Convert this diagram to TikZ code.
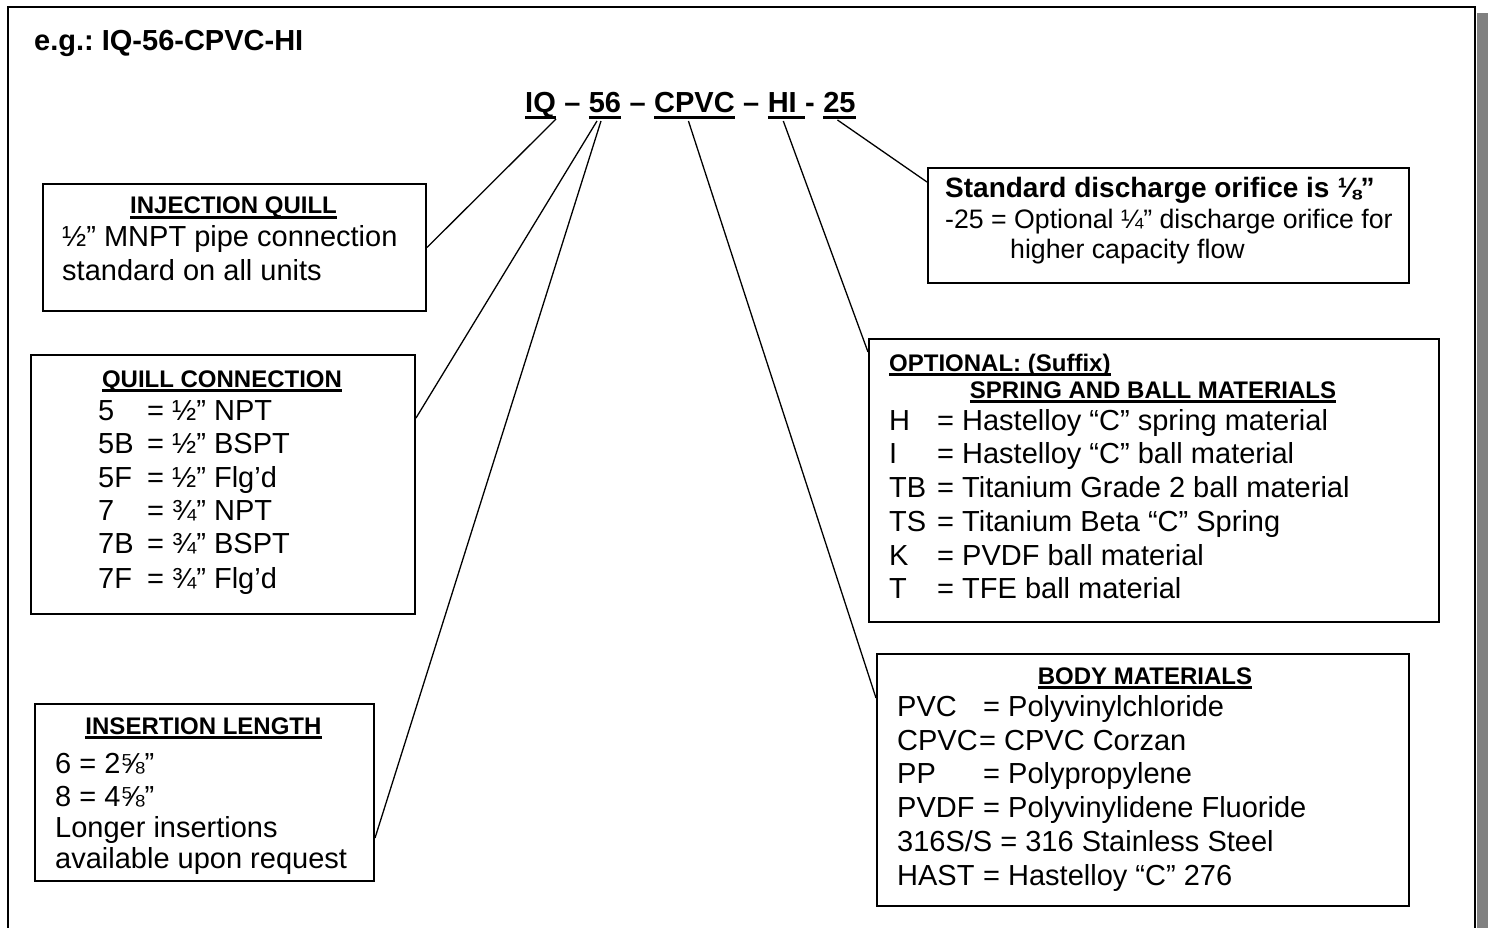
\documentclass[tikz,border=0pt]{standalone}
\usepackage{fontspec}
\setmainfont{Liberation Sans}
\frenchspacing
\newcommand\bodyf{\fontsize{29}{33.5}\selectfont}
\newcommand\sdf{\fontsize{26.7}{31}\selectfont}
\newcommand\hdrf{\fontsize{24}{28}\selectfont\bfseries}
\newcommand\ttlf{\fontsize{29}{34}\selectfont\bfseries}
\newcommand\ulH[1]{\setbox0\hbox{#1}\rlap{\rule[-5pt]{\wd0}{2.6pt}}\box0}
\newcommand\ulT[1]{\setbox0\hbox{#1}\rlap{\rule[-6.5pt]{\wd0}{3pt}}\box0}
\definecolor{shadowgray}{HTML}{808080}
\begin{document}
\begin{tikzpicture}[x=1pt,y=-1pt,
  box/.style={draw, line width=2pt, rectangle, inner sep=0pt, anchor=north west},
  txt/.style={anchor=base west, inner sep=0pt, font=\bodyf},
  hdr/.style={anchor=base, inner sep=0pt, font=\hdrf},
  hdrw/.style={anchor=base west, inner sep=0pt, font=\hdrf},
  ttl/.style={anchor=base west, inner sep=0pt, font=\ttlf},
  con/.style={line width=1.3pt}]
\useasboundingbox (0,0) rectangle (1488,928);
\clip (0,0) rectangle (1488,928);
% frame and shadow
\fill[shadowgray] (1477,13) rectangle (1488,940);
\draw[line width=2pt] (8,7) rectangle (1475,945);

% example line
\node[ttl] (eg) at (34,51) {e.g.: IQ-56-CPVC-HI};

% code title
\node[ttl] (tIQ) at (525,113) {\ulT{IQ}};
\node[ttl] (d1) at (tIQ.base east) {\ \textendash\ \null};
\node[ttl] (t56) at (d1.base east) {\ulT{56}};
\node[ttl] (d2) at (t56.base east) {\ \textendash\ \null};
\node[ttl] (tCP) at (d2.base east) {\ulT{CPVC}};
\node[ttl] (d3) at (tCP.base east) {\ \textendash\ \null};
\node[ttl] (tHI) at (d3.base east) {\ulT{HI\ \null}};
\node[ttl] (d4) at (tHI.base east) {-\ \null};
\node[ttl] (t25) at (d4.base east) {\ulT{25}};

% boxes
\node[box, minimum width=383pt, minimum height=127pt] (iq) at (42,183) {};
\node[box, minimum width=384pt, minimum height=259pt] (qc) at (30,354) {};
\node[box, minimum width=339pt, minimum height=177pt] (il) at (34,703) {};
\node[box, minimum width=481pt, minimum height=115pt] (sd) at (927,167) {};
\node[box, minimum width=570pt, minimum height=283pt] (op) at (868,338) {};
\node[box, minimum width=532pt, minimum height=252pt] (bm) at (876,653) {};

% injection quill
\node[hdr] (iqh) at (233.5,214) {\ulH{INJECTION QUILL}};
\node[txt] (iq1) at (62,246) {½” MNPT pipe connection};
\node[txt] (iq2) at (62,280) {standard on all units};

% quill connection
\node[hdr] (qch) at (222,387) {\ulH{QUILL CONNECTION}};
\foreach \c/\t/\y [count=\i] in {5/½” NPT/420, 5B/½” BSPT/453, 5F/½” Flg’d/487,
  7/¾” NPT/520, 7B/¾” BSPT/553, 7F/¾” Flg’d/588}{
  \node[txt] (qck\i) at (98,\y) {\c};
  \node[txt] (qcv\i) at (147,\y) {= \t};
}

% insertion length
\node[hdr] (ilh) at (203.5,734) {\ulH{INSERTION LENGTH}};
\node[txt] (il1) at (55,773) {6 = 2⅝”};
\node[txt] (il2) at (55,806) {8 = 4⅝”};
\node[txt] (il3) at (55,837) {Longer insertions};
\node[txt] (il4) at (55,868) {available upon request};

% standard orifice
\node[anchor=base west, inner sep=0pt, font=\fontsize{28}{33}\selectfont\bfseries] (sd1) at (945,197) {Standard discharge orifice is ⅛”};
\node[anchor=base west, inner sep=0pt, font=\sdf] (sd2) at (945,229) {-25 = Optional ¼” discharge orifice for};
\node[anchor=base west, inner sep=0pt, font=\sdf] (sd3) at (1010,258) {higher capacity flow};

% optional suffix
\node[hdrw] (oph1) at (889,371) {\ulH{OPTIONAL: (Suffix)}};
\node[hdr] (oph2) at (1153,398) {\ulH{SPRING AND BALL MATERIALS}};
\foreach \c/\t/\y [count=\i] in {H/Hastelloy “C” spring material/430,
  I/Hastelloy “C” ball material/463, TB/Titanium Grade 2 ball material/497,
  TS/Titanium Beta “C” Spring/531, K/PVDF ball material/565, T/TFE ball material/598}{
  \node[txt] (opk\i) at (889,\y) {\c};
  \node[txt] (opv\i) at (937,\y) {= \t};
}

% body materials
\node[hdr] (bmh) at (1145,684) {\ulH{BODY MATERIALS}};
\node[txt] (bmk1) at (897,716) {PVC};
\node[txt] (bmv1) at (983,716) {= Polyvinylchloride};
\node[txt] (bmk2) at (897,750) {CPVC};
\node[txt] (bmv2) at (979,750) {= CPVC Corzan};
\node[txt] (bmk3) at (897,783) {PP};
\node[txt] (bmv3) at (983,783) {= Polypropylene};
\node[txt] (bmk4) at (897,817) {PVDF};
\node[txt] (bmv4) at (983,817) {= Polyvinylidene Fluoride};
\node[txt] (bmr5) at (897,851) {316S/S = 316 Stainless Steel};
\node[txt] (bmk6) at (897,885) {HAST};
\node[txt] (bmv6) at (983,885) {= Hastelloy “C” 276};

% connector end points
\coordinate (sIQ) at ([yshift=-6pt]tIQ.base east);
\coordinate (s56a) at ([xshift=-8pt,yshift=-8pt]t56.base);
\coordinate (s56b) at ([xshift=-4pt,yshift=-8pt]t56.base);
\coordinate (sCP) at ([xshift=-6pt,yshift=-8pt]tCP.base);
\coordinate (sHI) at ([xshift=-3pt,yshift=-8pt]tHI.base);
\coordinate (s25) at ([xshift=-2pt,yshift=-7pt]t25.base);
\coordinate (qcE) at ([yshift=-64pt]qc.north east);
\coordinate (ilE) at ([yshift=-135pt]il.north east);
\coordinate (bmW) at ([yshift=-45pt]bm.north west);
\coordinate (opW) at ([yshift=-14pt]op.north west);
\coordinate (sdW) at ([yshift=-15pt]sd.north west);

\draw[con] (sIQ) -- (iq.east);
\draw[con] (s56a) -- (qcE);
\draw[con] (s56b) -- (ilE);
\draw[con] (sCP) -- (bmW);
\draw[con] (sHI) -- (opW);
\draw[con] (s25) -- (sdW);
\end{tikzpicture}
\end{document}
